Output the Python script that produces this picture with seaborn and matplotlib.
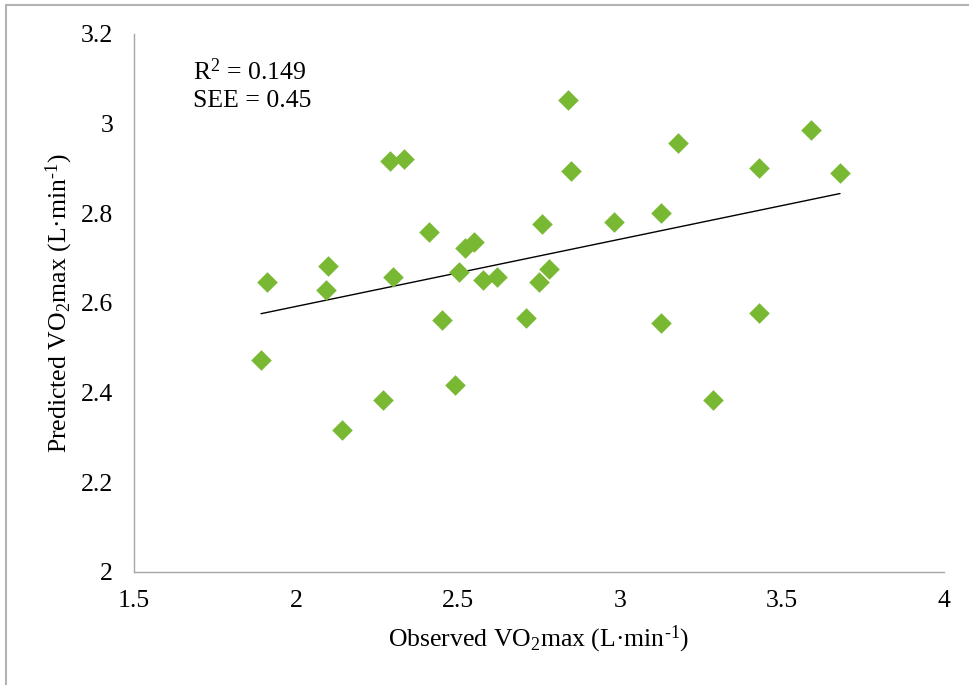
import matplotlib
matplotlib.use("Agg")
import matplotlib.pyplot as plt
import seaborn as sns
import numpy as np
import pandas as pd
from matplotlib.patches import Rectangle

# Data
observed = [1.892, 1.910, 2.099, 2.093, 2.142, 2.269, 2.290, 2.333, 2.299, 2.410,
            2.451, 2.491, 2.503, 2.522, 2.549, 2.577, 2.620, 2.710, 2.750, 2.759,
            2.781, 2.840, 2.849, 2.981, 3.127, 3.127, 3.179, 3.287, 3.429, 3.429,
            3.590, 3.679]
predicted = [2.473, 2.647, 2.683, 2.629, 2.317, 2.384, 2.917, 2.921, 2.658, 2.758,
             2.562, 2.417, 2.669, 2.723, 2.736, 2.651, 2.658, 2.567, 2.647, 2.776,
             2.676, 3.053, 2.894, 2.781, 2.801, 2.555, 2.957, 2.384, 2.901, 2.578,
             2.986, 2.890]
x_ticks = [1.5, 2, 2.5, 3, 3.5, 4]
x_tick_labels = ["1.5", "2", "2.5", "3", "3.5", "4"]
y_ticks = [2, 2.2, 2.4, 2.6, 2.8, 3, 3.2]
y_tick_labels = ["2", "2.2", "2.4", "2.6", "2.8", "3", "3.2"]
stats_text = ["R$^2$ = 0.149", "SEE = 0.45"]

df = pd.DataFrame({"observed": observed, "predicted": predicted})

sns.set_theme(style="white")
plt.rcParams["font.family"] = ["Liberation Serif", "DejaVu Serif"]
plt.rcParams["mathtext.fontset"] = "custom"
plt.rcParams["mathtext.rm"] = "Liberation Serif"
plt.rcParams["mathtext.it"] = "Liberation Serif:italic"
plt.rcParams["mathtext.bf"] = "Liberation Serif:bold"

FS = 18.5

fig = plt.figure(figsize=(9.69, 6.85), dpi=100)
ax = fig.add_axes([134 / 969, 1 - 572 / 685, 810 / 969, 538 / 685])

green = "#78b833"
sns.regplot(data=df, x="observed", y="predicted", ax=ax, scatter=False, ci=None,
            line_kws={"color": "black", "linewidth": 1.0})
sns.scatterplot(data=df, x="observed", y="predicted", ax=ax, marker="D",
                s=110, color=green, edgecolor=green, linewidth=0, zorder=3)

ax.set_xlim(1.5, 4)
ax.set_ylim(2, 3.2)
ax.set_xticks(x_ticks)
ax.set_xticklabels(x_tick_labels)
ax.set_yticks(y_ticks)
ax.set_yticklabels(y_tick_labels)

spine_color = "#a6a6a6"
for side in ["top", "right"]:
    ax.spines[side].set_visible(False)
for side in ["left", "bottom"]:
    ax.spines[side].set_color(spine_color)
    ax.spines[side].set_linewidth(1.0)

ax.tick_params(axis="both", which="major", direction="out", length=5, width=1.0,
               color=spine_color, labelcolor="black", labelsize=FS)
ax.tick_params(axis="y", pad=10)
ax.tick_params(axis="x", pad=8)
ax.grid(False)

ax.set_xlabel("Observed VO$_2$max (L·min$^{\u20101}$)", fontsize=FS, color="black", labelpad=8)
ax.set_ylabel("Predicted VO$_2$max (L·min$^{\u20101}$)", fontsize=FS, color="black", labelpad=4)

ax.text(0.073, 0.93, stats_text[0], transform=ax.transAxes, fontsize=FS,
        ha="left", va="center", color="black")
ax.text(0.073, 0.876, stats_text[1], transform=ax.transAxes, fontsize=FS,
        ha="left", va="center", color="black")

# Outer chart frame (partly cut off at right and bottom)
frame = Rectangle((6 / 969, -0.2), 1.2, (1 - 5 / 685) + 0.2, transform=fig.transFigure,
                  fill=False, edgecolor="#b3b3b3", linewidth=1.5)
fig.patches.append(frame)

fig.savefig("out.png", dpi=100, facecolor="white")
